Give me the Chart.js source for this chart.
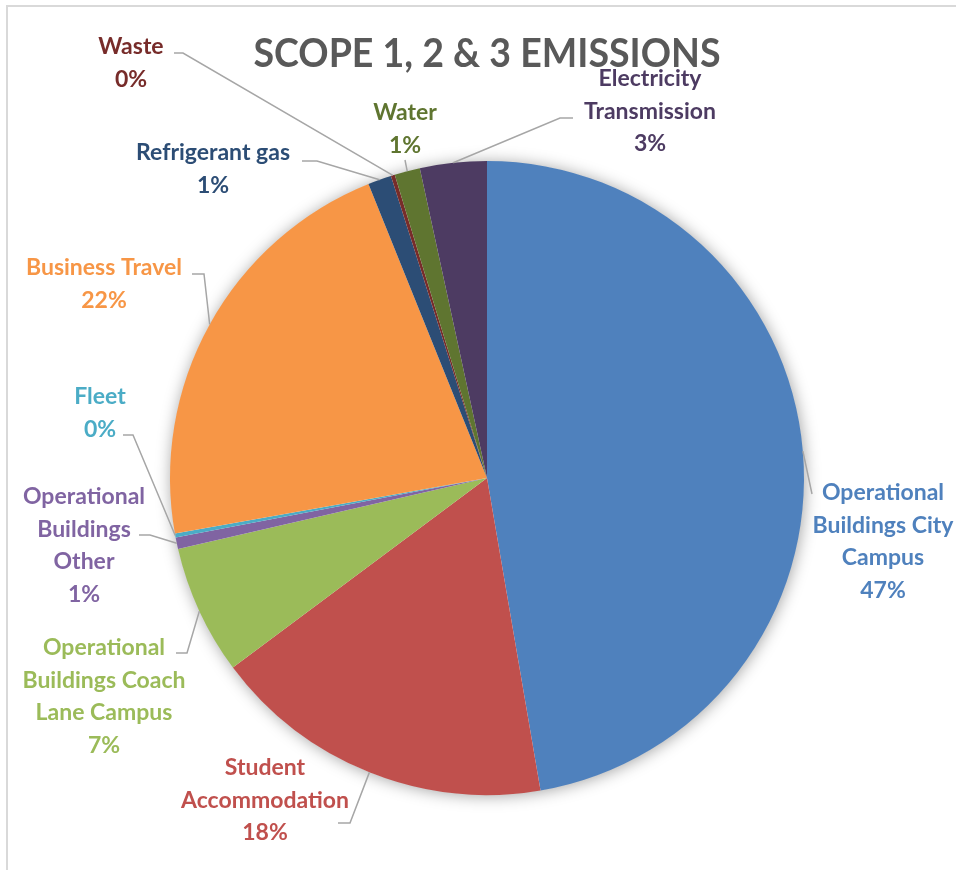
<!DOCTYPE html>
<html lang="en">
  <head>
    <meta charset="UTF-8" />
    <title>Scope 1, 2 & 3 Emissions</title>
    <script src="https://cdn.jsdelivr.net/npm/chart.js"></script>
    <style>
      body {
        margin: 0;
        background: #ffffff;
      }
      .wrap {
        position: relative;
        width: 956px;
        height: 870px;
      }
    </style>
  </head>
  <body>
    <div class="wrap"><canvas id="pieChart"></canvas></div>

    <script>
      // data (percent share of total emissions)
      const categories = [
        "Operational Buildings City Campus",
        "Student Accommodation",
        "Operational Buildings Coach Lane Campus",
        "Operational Buildings Other",
        "Fleet",
        "Business Travel",
        "Refrigerant gas",
        "Waste",
        "Water",
        "Electricity Transmission",
      ];
      const shares = [47.3, 17.5, 6.6, 0.6, 0.2, 21.7, 1.2, 0.2, 1.3, 3.4];
      const sliceColors = [
        "#4F81BD",
        "#C0504D",
        "#9BBB59",
        "#8064A2",
        "#4BACC6",
        "#F79646",
        "#2C4D75",
        "#772C2A",
        "#5F7530",
        "#4D3B62",
      ];
      const chartTitle = "SCOPE 1, 2 & 3 EMISSIONS";

      // how each label is wrapped onto lines
      const labelLines = [
        ["Operational", "Buildings City", "Campus"],
        ["Student", "Accommodation"],
        ["Operational", "Buildings Coach", "Lane Campus"],
        ["Operational", "Buildings", "Other"],
        ["Fleet"],
        ["Business Travel"],
        ["Refrigerant gas"],
        ["Waste"],
        ["Water"],
        ["Electricity", "Transmission"],
      ];

      // label placement: text centre x, first line centre y, leader points
      const labelPlace = [
        { x: 883, y: 493, leader: [[812, 494]] },
        { x: 265, y: 768, leader: [[338, 823], [350, 823]] },
        { x: 104, y: 648, leader: [[176, 653], [187, 653]] },
        { x: 84, y: 497, leader: [[139, 535], [150, 535]] },
        { x: 100, y: 397, leader: [[123, 435], [133, 435]] },
        { x: 104, y: 268, leader: [[192, 274], [204, 274]] },
        { x: 213, y: 153, leader: [[302, 161], [317, 161]] },
        { x: 131, y: 47, leader: [[174, 53], [183, 53]] },
        { x: 405, y: 113, leader: [[405, 160]] },
        { x: 650, y: 79, leader: [[573, 118], [560, 118]] },
      ];

      const lineGap = 32.5;
      const labelFont = "bold 23px Lato";

      const shadowPlugin = {
        id: "pieShadow",
        beforeDatasetsDraw(chart) {
          const arc = chart.getDatasetMeta(0).data[0];
          if (!arc) return;
          const ctx = chart.ctx;
          ctx.save();
          ctx.shadowColor = "rgba(0,0,0,0.38)";
          ctx.shadowBlur = 16;
          ctx.shadowOffsetX = 1;
          ctx.shadowOffsetY = 1;
          ctx.fillStyle = "#ffffff";
          ctx.beginPath();
          ctx.arc(arc.x, arc.y, arc.outerRadius - 0.5, 0, Math.PI * 2);
          ctx.fill();
          ctx.restore();
        },
      };

      const labelPlugin = {
        id: "pieLabels",
        afterDraw(chart) {
          const ctx = chart.ctx;
          const meta = chart.getDatasetMeta(0);
          const total = shares.reduce((a, b) => a + b, 0);
          ctx.save();

          // frame lines
          ctx.strokeStyle = "#D9D9D9";
          ctx.lineWidth = 2;
          ctx.beginPath();
          ctx.moveTo(956, 6);
          ctx.lineTo(7, 6);
          ctx.lineTo(7, 870);
          ctx.stroke();

          // title, squeezed to the width it has in the reference
          ctx.font = "bold 40px Lato";
          ctx.fillStyle = "#595959";
          ctx.textBaseline = "alphabetic";
          ctx.textAlign = "center";
          const tw = ctx.measureText(chartTitle).width;
          ctx.save();
          ctx.translate(487, 67);
          ctx.scale(467 / tw, 1);
          ctx.fillText(chartTitle, 0, 0);
          ctx.restore();

          meta.data.forEach((arc, i) => {
            const place = labelPlace[i];
            const mid = (arc.startAngle + arc.endAngle) / 2;
            const ex = arc.x + Math.cos(mid) * arc.outerRadius;
            const ey = arc.y + Math.sin(mid) * arc.outerRadius;

            // leader line
            ctx.strokeStyle = "#A6A6A6";
            ctx.lineWidth = 1.5;
            ctx.beginPath();
            place.leader.forEach((p, k) => {
              if (k === 0) ctx.moveTo(p[0], p[1]);
              else ctx.lineTo(p[0], p[1]);
            });
            ctx.lineTo(ex, ey);
            ctx.stroke();

            // text
            const lines = labelLines[i].concat([
              Math.round((shares[i] / total) * 100) + "%",
            ]);
            ctx.font = labelFont;
            ctx.fillStyle = sliceColors[i];
            ctx.textAlign = "center";
            ctx.textBaseline = "middle";
            lines.forEach((t, k) => {
              ctx.fillText(t, place.x, place.y + k * lineGap);
            });
          });
          ctx.restore();
        },
      };

      const ctxPie = document.getElementById("pieChart").getContext("2d");
      const pieChart = new Chart(ctxPie, {
        type: "pie",
        data: {
          labels: categories,
          datasets: [
            {
              data: shares,
              backgroundColor: sliceColors,
              borderWidth: 0,
            },
          ],
        },
        options: {
          responsive: true,
          maintainAspectRatio: false,
          animation: false,
          rotation: 0,
          layout: {
            padding: { left: 170, right: 152, top: 161, bottom: 75 },
          },
          plugins: {
            legend: { display: false },
            title: { display: false },
            tooltip: { enabled: false },
          },
        },
        plugins: [shadowPlugin, labelPlugin],
      });
    </script>
  </body>
</html>
